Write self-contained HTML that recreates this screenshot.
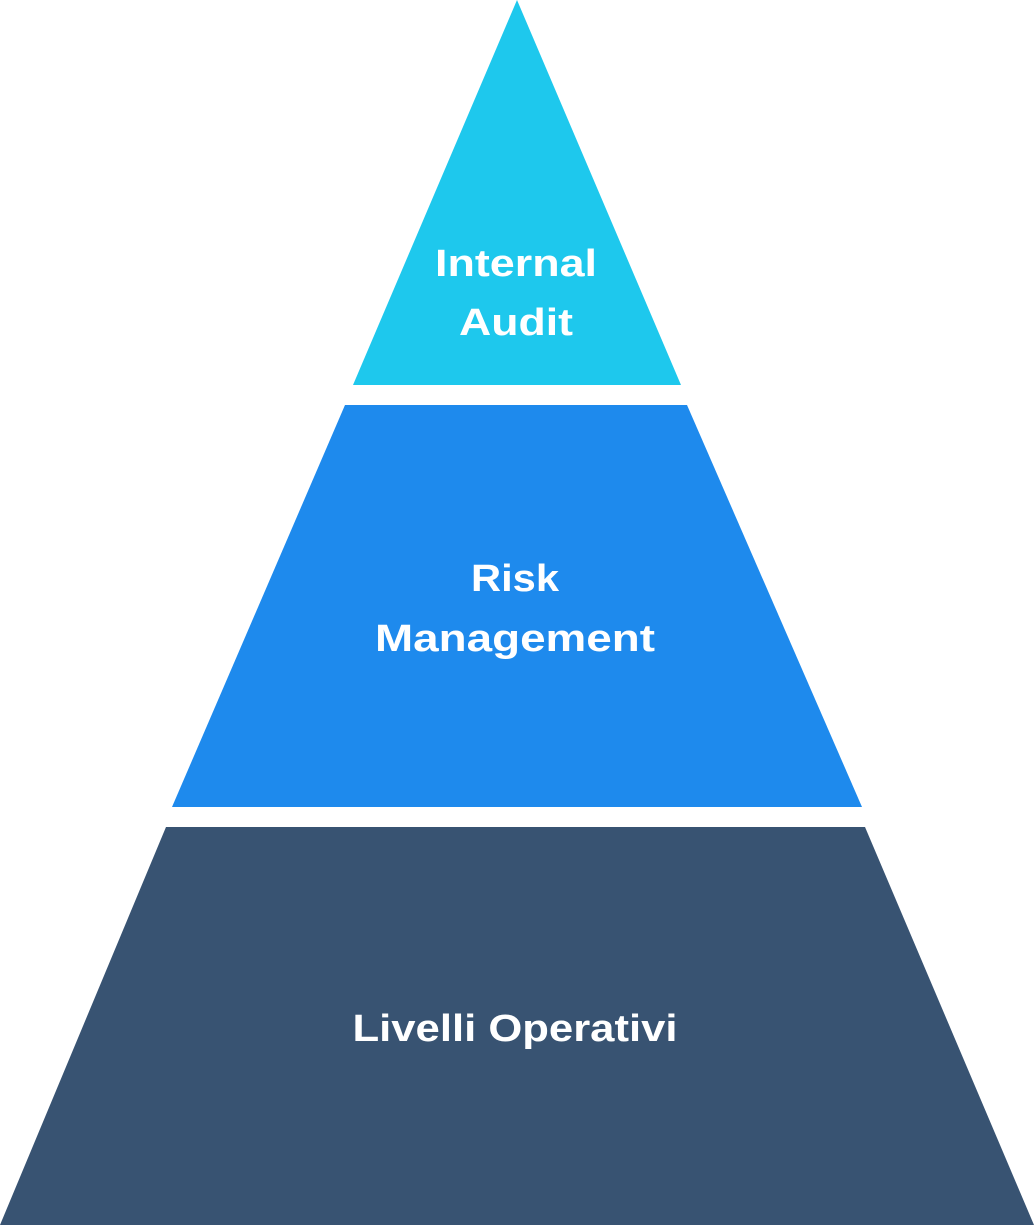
<!DOCTYPE html>
<html><head><style>html,body{margin:0;padding:0;background:#fff}</style></head>
<body>
<svg width="1034" height="1225" viewBox="0 0 1034 1225" xmlns="http://www.w3.org/2000/svg">
<polygon points="517,0 681,385 353,385" fill="#1ec8ed"/>
<polygon points="345,405 687,405 862,807 172,807" fill="#1e8aed"/>
<polygon points="166,827 865,827 1034,1225 0,1225" fill="#385372"/>
<g font-family="Liberation Sans, sans-serif" font-weight="bold" font-size="38" fill="#fff" text-anchor="middle" lengthAdjust="spacingAndGlyphs">
<text x="516" y="276" textLength="162" lengthAdjust="spacingAndGlyphs">Internal</text>
<text x="516" y="335" textLength="114" lengthAdjust="spacingAndGlyphs">Audit</text>
<text x="515" y="591" textLength="88" lengthAdjust="spacingAndGlyphs">Risk</text>
<text x="515" y="651" textLength="280" lengthAdjust="spacingAndGlyphs">Management</text>
<text x="515" y="1041" textLength="325" lengthAdjust="spacingAndGlyphs">Livelli Operativi</text>
</g>
</svg>
</body></html>
